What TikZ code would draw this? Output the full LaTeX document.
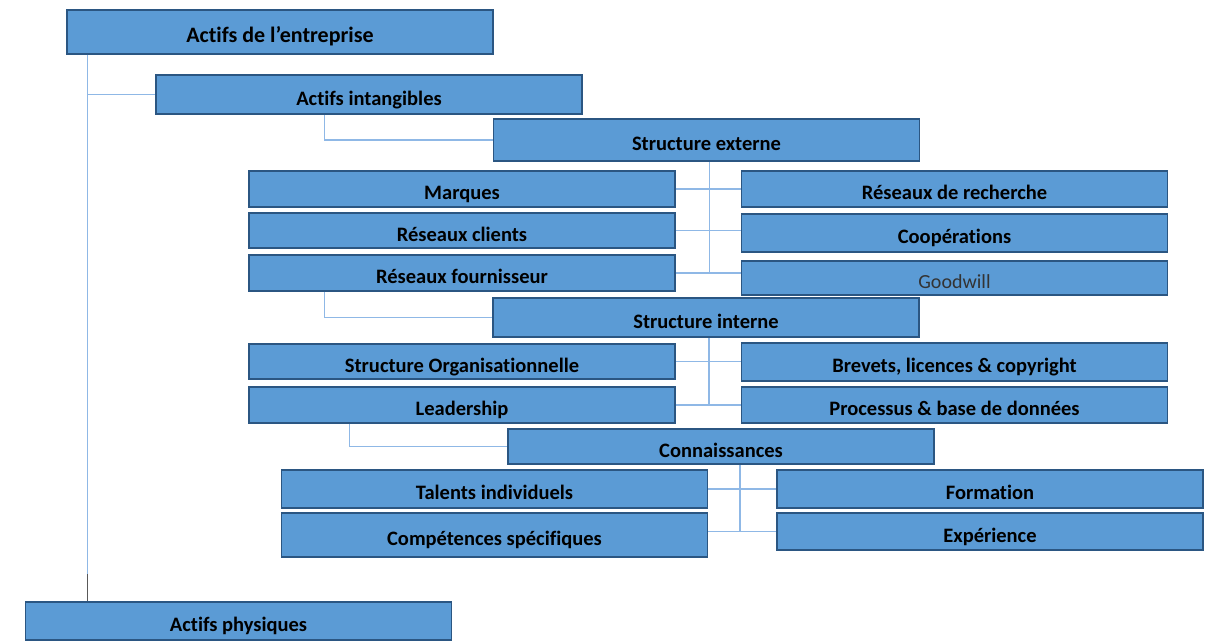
\documentclass[tikz,border=0pt]{standalone}
\usepackage{fontspec}
\setmainfont{Carlito}[Ligatures=NoCommon]
\usepackage{tikz}
\usetikzlibrary{positioning}
\usepackage{xcolor}
\definecolor{boxfill}{HTML}{5B9BD5}
\definecolor{boxline}{HTML}{2B5682}
\definecolor{connline}{HTML}{8FB8E6}
\definecolor{darkstub}{HTML}{595959}

\begin{document}
\begin{tikzpicture}[x=1pt, y=-1pt]
    % Styles
    \tikzstyle{box} = [rectangle, draw=boxline, line width=1.8pt, fill=boxfill, inner sep=0pt, text height=21pt, text depth=0pt, font=\fontsize{20.5}{24}\selectfont\bfseries]
    \tikzstyle{wide} = [box, minimum width=426pt]
    \tikzstyle{line} = [draw=connline, line width=1.1pt]

    \useasboundingbox (0,0) rectangle (1209,643);

    % Nodes
    \node [wide, minimum height=44pt, font=\fontsize{22}{26}\selectfont\bfseries] (ent) at (280,32) {Actifs de l’entreprise};
    \node [wide, minimum height=39pt] (intang) at (369,94.5) {Actifs intangibles};
    \node [wide, minimum height=42pt] (ext) at (706.5,140) {Structure externe};

    \node [wide, minimum height=36pt] (marq) at (462,189) {Marques};
    \node [wide, minimum height=35pt] (cli) at (462,230.5) {Réseaux clients};
    \node [wide, minimum height=36pt] (four) at (462,273) {Réseaux fournisseur};
    \node [wide, minimum height=36pt] (rech) at (954.5,189) {Réseaux de recherche};
    \node [wide, minimum height=38pt] (coop) at (954.5,233) {Coopérations};
    \node [wide, minimum height=34pt, font=\fontsize{20}{24}\selectfont, text=black!80] (good) at (954.5,278) {Goodwill};

    \node [wide, minimum height=39pt] (int) at (706,317.5) {Structure interne};
    \node [wide, minimum height=35pt] (org) at (462,361.5) {Structure Organisationnelle};
    \node [wide, minimum height=36pt] (lead) at (462,405) {Leadership};
    \node [wide, minimum height=38pt] (brev) at (954.5,362) {Brevets, licences \& copyright};
    \node [wide, minimum height=36pt] (proc) at (954.5,405) {Processus \& base de données};

    \node [wide, minimum height=35pt] (conn) at (721,446.5) {Connaissances};
    \node [wide, minimum height=38pt] (tal) at (494.5,489) {Talents individuels};
    \node [wide, minimum height=44pt] (comp) at (494.5,535) {Compétences spécifiques};
    \node [wide, minimum height=38pt] (form) at (990,489) {Formation};
    \node [wide, minimum height=37pt] (exp) at (990,531.5) {Expérience};

    \node [wide, minimum height=38pt] (phys) at (238.5,621) {Actifs physiques};

    % Edges
    \coordinate (e1) at ([xshift=21pt]ent.south west);
    \path [line] (e1) |- (intang.west);
    \path [line] (e1) -- ([yshift=27pt]e1 |- phys.north);
    \draw [darkstub, line width=1.1pt] ([yshift=27pt]e1 |- phys.north) -- (e1 |- phys.north);

    \coordinate (i1) at ([xshift=169pt]intang.south west);
    \path [line] (i1) |- (ext.west);
    \coordinate (x1) at ([xshift=3pt]ext.south);
    \path [line] (x1) -- (x1 |- four.east);
    \path [line] (marq.east) -- (marq.east -| rech.west);
    \path [line] (cli.east) -- (cli.east -| coop.west);
    \path [line] (four.east) -- (four.east -| good.west);

    \coordinate (f1) at ([xshift=76pt]four.south west);
    \path [line] (f1) |- (int.west);
    \coordinate (n1) at ([xshift=3pt]int.south);
    \path [line] (n1) -- (n1 |- lead.east);
    \path [line] (org.east) -- (org.east -| brev.west);
    \path [line] (lead.east) -- (lead.east -| proc.west);

    \coordinate (l1) at ([xshift=101pt]lead.south west);
    \path [line] (l1) |- (conn.west);
    \coordinate (c1) at ([xshift=19pt]conn.south);
    \path [line] (c1) -- (c1 |- exp.west);
    \path [line] (tal.east) -- (tal.east -| form.west);
    \path [line] (tal.east |- exp.west) -- (exp.west);

\end{tikzpicture}
\end{document}
